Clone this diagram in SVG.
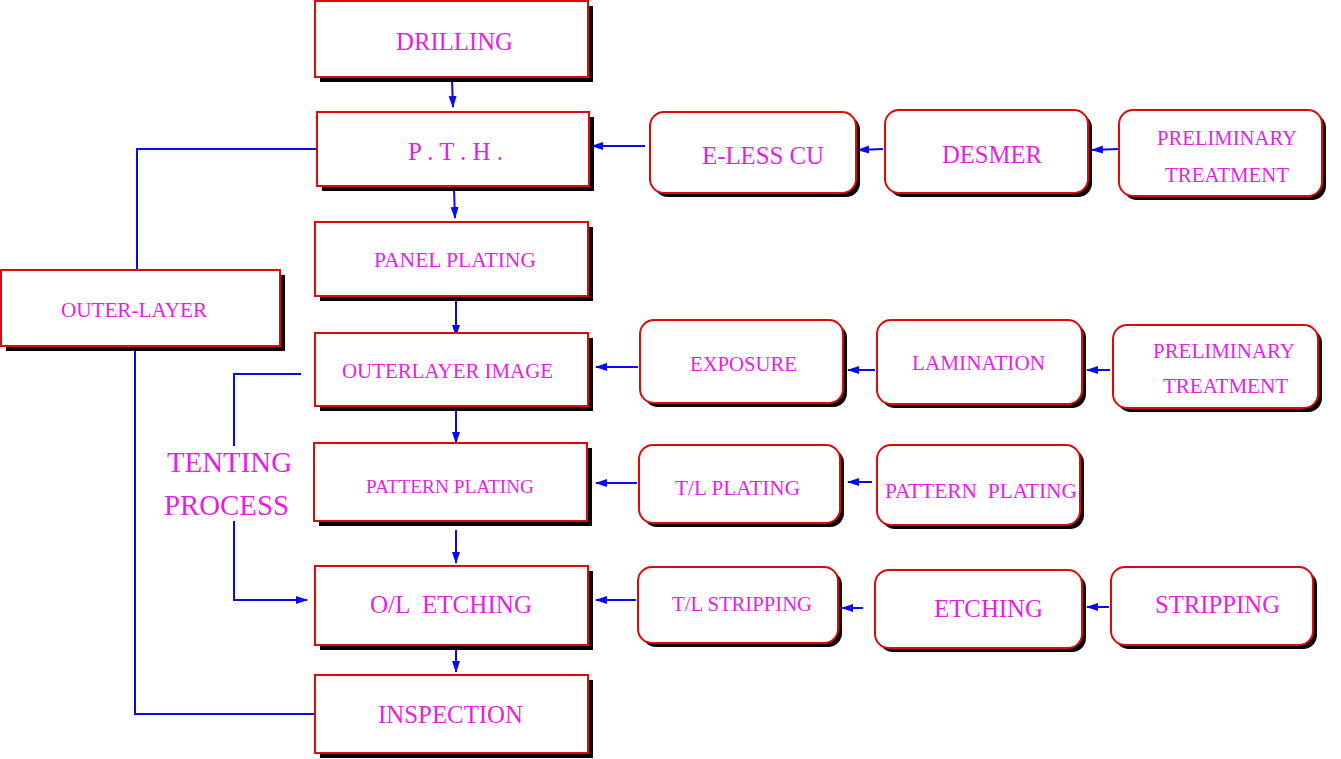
<svg xmlns="http://www.w3.org/2000/svg" width="1341" height="759" viewBox="0 0 1341 759">
<defs>
<marker id="ah" markerWidth="12" markerHeight="10" refX="11" refY="5" orient="auto" markerUnits="userSpaceOnUse">
<path d="M0,1 L12,5 L0,9 Z" fill="#0a0af0"/>
</marker>
<style>
.sh{fill:#000}
.bx{fill:#fff;stroke:#dd0a0a;stroke-width:2}
.t{font-family:"Liberation Serif","Times New Roman",serif;fill:#e81ee8;text-anchor:middle;white-space:pre}
.c{fill:none;stroke:#0a0af0;stroke-width:2}
</style>
</defs>
<rect width="1341" height="759" fill="#fff"/>

<g id="connectors">
<path class="c" d="M452,80 L453,107" marker-end="url(#ah)"/>
<path class="c" d="M454,189 L455,218" marker-end="url(#ah)"/>
<path class="c" d="M456,299 L456,336" marker-end="url(#ah)"/>
<path class="c" d="M456,409 L456,443" marker-end="url(#ah)"/>
<path class="c" d="M456,530 L456,563" marker-end="url(#ah)"/>
<path class="c" d="M456,650 L456,672" marker-end="url(#ah)"/>
<path class="c" d="M645,146 L592,146" marker-end="url(#ah)"/>
<path class="c" d="M883,149 L858,150" marker-end="url(#ah)"/>
<path class="c" d="M1118,149 L1092,150" marker-end="url(#ah)"/>
<path class="c" d="M638,367 L596,367" marker-end="url(#ah)"/>
<path class="c" d="M875,370 L848,370" marker-end="url(#ah)"/>
<path class="c" d="M1110,370 L1087,370" marker-end="url(#ah)"/>
<path class="c" d="M637,483 L596,483" marker-end="url(#ah)"/>
<path class="c" d="M872,482 L848,482" marker-end="url(#ah)"/>
<path class="c" d="M636,600 L596,600" marker-end="url(#ah)"/>
<path class="c" d="M863,608 L842,608" marker-end="url(#ah)"/>
<path class="c" d="M1109,607 L1087,607" marker-end="url(#ah)"/>
<path class="c" d="M137,269 L137,149 L317,149"/>
<path class="c" d="M135,348 L135,714 L315,714"/>
<path class="c" d="M301,374 L234,374 L234,446"/>
<path class="c" d="M234,521 L234,600 L307,600" marker-end="url(#ah)"/>
</g>

<g id="drilling">
<rect class="sh" x="320" y="6" width="273" height="76"/>
<rect class="bx" x="315" y="1" width="273" height="76"/>
<text class="t" x="454.5" y="50" font-size="25" textLength="117" lengthAdjust="spacingAndGlyphs">DRILLING</text>
</g>
<g id="pth">
<rect class="sh" x="322" y="117" width="272" height="74"/>
<rect class="bx" x="317" y="112" width="272" height="74"/>
<text class="t" x="455.5" y="160" font-size="25" textLength="95" lengthAdjust="spacingAndGlyphs">P . T . H .</text>
</g>
<g id="panel-plating">
<rect class="sh" x="320" y="227" width="273" height="74"/>
<rect class="bx" x="315" y="222" width="273" height="74"/>
<text class="t" x="455" y="267" font-size="21" textLength="162" lengthAdjust="spacingAndGlyphs">PANEL PLATING</text>
</g>
<g id="outerlayer-image">
<rect class="sh" x="320" y="338" width="273" height="73"/>
<rect class="bx" x="315" y="333" width="273" height="73"/>
<text class="t" x="447.5" y="378" font-size="21" textLength="211" lengthAdjust="spacingAndGlyphs">OUTERLAYER IMAGE</text>
</g>
<g id="pattern-plating-main">
<rect class="sh" x="319" y="448" width="273" height="78"/>
<rect class="bx" x="314" y="443" width="273" height="78"/>
<text class="t" x="450" y="493" font-size="19.5" textLength="168" lengthAdjust="spacingAndGlyphs">PATTERN PLATING</text>
</g>
<g id="ol-etching">
<rect class="sh" x="320" y="571" width="273" height="79"/>
<rect class="bx" x="315" y="566" width="273" height="79"/>
<text class="t" x="451" y="613" font-size="24.5" textLength="162" lengthAdjust="spacingAndGlyphs">O/L  ETCHING</text>
</g>
<g id="inspection">
<rect class="sh" x="320" y="680" width="273" height="78"/>
<rect class="bx" x="315" y="675" width="273" height="78"/>
<text class="t" x="450.5" y="723" font-size="24.5" textLength="145" lengthAdjust="spacingAndGlyphs">INSPECTION</text>
</g>
<g id="outer-layer">
<rect class="sh" x="6" y="275" width="279" height="76"/>
<rect class="bx" x="1" y="270" width="279" height="76"/>
<text class="t" x="134" y="317" font-size="20.5" textLength="146" lengthAdjust="spacingAndGlyphs">OUTER-LAYER</text>
</g>

<g id="eless-cu">
<rect class="sh" x="654" y="116" width="206" height="81" rx="14"/>
<rect class="bx" x="650" y="112" width="206" height="81" rx="14"/>
<text class="t" x="763" y="164" font-size="24.5" textLength="122" lengthAdjust="spacingAndGlyphs">E-LESS CU</text>
</g>
<g id="desmer">
<rect class="sh" x="889" y="114" width="203" height="83" rx="14"/>
<rect class="bx" x="885" y="110" width="203" height="83" rx="14"/>
<text class="t" x="992" y="163" font-size="24.5" textLength="100" lengthAdjust="spacingAndGlyphs">DESMER</text>
</g>
<g id="preliminary-1">
<rect class="sh" x="1123" y="114" width="203" height="86" rx="14"/>
<rect class="bx" x="1119" y="110" width="203" height="86" rx="14"/>
<text class="t" x="1227" y="145" font-size="20.5" textLength="140" lengthAdjust="spacingAndGlyphs">PRELIMINARY</text>
<text class="t" x="1227" y="182" font-size="20.5" textLength="124" lengthAdjust="spacingAndGlyphs">TREATMENT</text>
</g>

<g id="exposure">
<rect class="sh" x="644" y="324" width="203" height="83" rx="14"/>
<rect class="bx" x="640" y="320" width="203" height="83" rx="14"/>
<text class="t" x="743.5" y="371" font-size="20.5" textLength="107" lengthAdjust="spacingAndGlyphs">EXPOSURE</text>
</g>
<g id="lamination">
<rect class="sh" x="881" y="324" width="205" height="84" rx="14"/>
<rect class="bx" x="877" y="320" width="205" height="84" rx="14"/>
<text class="t" x="978.5" y="370" font-size="20.5" textLength="133" lengthAdjust="spacingAndGlyphs">LAMINATION</text>
</g>
<g id="preliminary-2">
<rect class="sh" x="1117" y="329" width="205" height="83" rx="14"/>
<rect class="bx" x="1113" y="325" width="205" height="83" rx="14"/>
<text class="t" x="1224" y="358" font-size="20.5" textLength="142" lengthAdjust="spacingAndGlyphs">PRELIMINARY</text>
<text class="t" x="1225.5" y="393" font-size="20.5" textLength="125" lengthAdjust="spacingAndGlyphs">TREATMENT</text>
</g>

<g id="tl-plating">
<rect class="sh" x="643" y="449" width="201" height="78" rx="14"/>
<rect class="bx" x="639" y="445" width="201" height="78" rx="14"/>
<text class="t" x="737.5" y="495" font-size="20.5" textLength="125" lengthAdjust="spacingAndGlyphs">T/L PLATING</text>
</g>
<g id="pattern-plating-side">
<rect class="sh" x="881" y="449" width="203" height="80" rx="14"/>
<rect class="bx" x="877" y="445" width="203" height="80" rx="14"/>
<text class="t" x="981" y="498" font-size="20.5" textLength="192" lengthAdjust="spacingAndGlyphs">PATTERN  PLATING</text>
</g>

<g id="tl-stripping">
<rect class="sh" x="642" y="571" width="200" height="76" rx="14"/>
<rect class="bx" x="638" y="567" width="200" height="76" rx="14"/>
<text class="t" x="742" y="611" font-size="20.5" textLength="140" lengthAdjust="spacingAndGlyphs">T/L STRIPPING</text>
</g>
<g id="etching">
<rect class="sh" x="879" y="574" width="207" height="78" rx="14"/>
<rect class="bx" x="875" y="570" width="207" height="78" rx="14"/>
<text class="t" x="988.5" y="617" font-size="24.5" textLength="109" lengthAdjust="spacingAndGlyphs">ETCHING</text>
</g>
<g id="stripping">
<rect class="sh" x="1115" y="571" width="202" height="78" rx="14"/>
<rect class="bx" x="1111" y="567" width="202" height="78" rx="14"/>
<text class="t" x="1217.5" y="613" font-size="24.5" textLength="125" lengthAdjust="spacingAndGlyphs">STRIPPING</text>
</g>

<g id="tenting-label">
<text class="t" x="229.5" y="472" font-size="28.5" textLength="125" lengthAdjust="spacingAndGlyphs">TENTING</text>
<text class="t" x="226.5" y="515" font-size="28.5" textLength="125" lengthAdjust="spacingAndGlyphs">PROCESS</text>
</g>
</svg>
